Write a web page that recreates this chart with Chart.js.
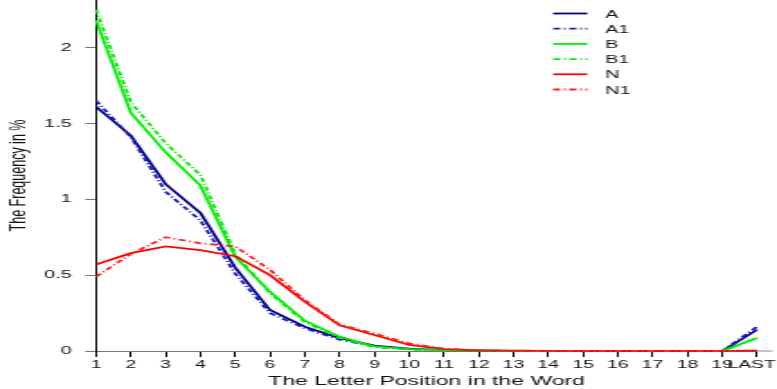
<!DOCTYPE html>
<html>
<head>
<meta charset="utf-8">
<script src="https://cdn.jsdelivr.net/npm/chart.js@4.4.1/dist/chart.umd.min.js"></script>
<style>
  html, body { margin: 0; padding: 0; background: #fff; }
  /* the reference is a horizontally stretched plot, so the canvas is drawn narrow and stretched */
  #freqChart { display: block; width: 777px !important; height: 389px !important; }
</style>
</head>
<body>
<canvas id="freqChart" width="432" height="389" style="width:777px;height:389px"></canvas>
<script>
// letter positions
const positions = ['1', '2', '3', '4', '5', '6', '7', '8', '9', '10',
                   '11', '12', '13', '14', '15', '16', '17', '18', '19', 'LAST'];
const yTicks = [0, 0.5, 1, 1.5, 2];

// frequency in % per position
const freqA  = [1.61, 1.42, 1.10, 0.91, 0.55, 0.27, 0.16, 0.085, 0.035, 0.015, 0.006, 0.003, 0.001, 0, 0, 0, 0, 0, 0, 0.14];
const freqA1 = [1.65, 1.41, 1.05, 0.86, 0.51, 0.25, 0.15, 0.075, 0.030, 0.012, 0.005, 0.002, 0.001, 0, 0, 0, 0, 0, 0, 0.16];
const freqB  = [2.18, 1.57, 1.31, 1.09, 0.62, 0.39, 0.20, 0.095, 0.030, 0.012, 0.005, 0.002, 0.001, 0, 0, 0, 0, 0, 0, 0.085];
const freqB1 = [2.25, 1.64, 1.37, 1.16, 0.64, 0.38, 0.19, 0.085, 0.025, 0.010, 0.004, 0.002, 0.001, 0, 0, 0, 0, 0, 0, 0.085];
const freqN  = [0.57, 0.645, 0.69, 0.665, 0.625, 0.50, 0.325, 0.17, 0.105, 0.040, 0.013, 0.004, 0.002, 0.001, 0, 0, 0, 0, 0, 0.003];
const freqN1 = [0.49, 0.64, 0.75, 0.71, 0.69, 0.535, 0.335, 0.175, 0.115, 0.050, 0.015, 0.005, 0.002, 0.001, 0, 0, 0, 0, 0, 0.003];

const dotDash = [4, 2, 1, 2];

function series(label, data, color, dash, order) {
    return {
        label: label,
        data: data,
        borderColor: color,
        backgroundColor: color,
        borderWidth: 1.8,
        borderDash: dash,
        pointRadius: 0,
        tension: 0,
        fill: false,
        clip: false,
        order: order
    };
}

// Legend drawn inside the plot, top right
const legendPlugin = {
    id: 'innerLegend',
    afterDraw(chart) {
        const ctx = chart.ctx;
        ctx.save();
        chart.data.datasets.forEach((ds, i) => {
            const y = 13.5 + i * 15.2;
            ctx.strokeStyle = ds.borderColor;
            ctx.lineWidth = 1.8;
            ctx.setLineDash(ds.borderDash || []);
            ctx.beginPath();
            ctx.moveTo(307.5, y);
            ctx.lineTo(326.5, y);
            ctx.stroke();
            ctx.setLineDash([]);
            ctx.fillStyle = '#111';
            ctx.font = '11px "Liberation Sans", Arial, sans-serif';
            ctx.textBaseline = 'middle';
            ctx.textAlign = 'left';
            ctx.fillText(ds.label, 336.5, y + 1);
        });
        ctx.restore();
    }
};

// zero line runs a little past the last position
const axisExtend = {
    id: 'axisExtend',
    beforeDatasetsDraw(chart) {
        const ctx = chart.ctx;
        const y = chart.scales.y.getPixelForValue(0);
        ctx.save();
        ctx.strokeStyle = '#8a8a8a';
        ctx.lineWidth = 1;
        ctx.beginPath();
        ctx.moveTo(chart.chartArea.right, y);
        ctx.lineTo(429.5, y);
        ctx.stroke();
        ctx.restore();
    }
};

const ctx = document.getElementById('freqChart').getContext('2d');
new Chart(ctx, {
    type: 'line',
    data: {
        labels: positions,
        datasets: [
            series('A',  freqA,  '#000088', [], 6),
            series('A1', freqA1, '#1a1acc', dotDash, 5),
            series('B',  freqB,  '#00ee00', [], 4),
            series('B1', freqB1, '#00ee00', dotDash, 3),
            series('N',  freqN,  '#ff0000', [], 2),
            series('N1', freqN1, '#ff2020', dotDash, 1)
        ]
    },
    options: {
        responsive: false,
        animation: false,
        devicePixelRatio: 1,
        layout: { padding: { left: 0, right: 11.1, top: 0, bottom: 0 } },
        plugins: {
            legend: { display: false },
            tooltip: { enabled: false }
        },
        scales: {
            x: {
                type: 'category',
                offset: false,
                grid: {
                    drawOnChartArea: false,
                    tickLength: 6,
                    tickColor: '#000',
                    tickWidth: 1
                },
                border: { color: '#777', width: 1 },
                ticks: {
                    autoSkip: false,
                    maxRotation: 0,
                    minRotation: 0,
                    padding: 2,
                    color: '#111',
                    font: { family: '"Liberation Sans", Arial, sans-serif', size: 10.8 },
                    // last label sits a bit left so it stays inside the page
                    callback: function (v, i) {
                        const lab = this.getLabelForValue(v);
                        return i === positions.length - 1 ? lab + '  ' : lab;
                    }
                },
                title: {
                    display: true,
                    text: 'The Letter Position in the Word',
                    color: '#111',
                    padding: { top: 0, bottom: 0 },
                    font: { family: '"Liberation Sans", Arial, sans-serif', size: 12.8 }
                },
                afterFit(scale) {
                    scale.height = 38;
                    scale.paddingLeft = 0;
                    scale.paddingRight = 0;
                }
            },
            y: {
                min: 0,
                max: 2.314,
                grid: {
                    drawOnChartArea: false,
                    tickLength: 6,
                    tickColor: '#777',
                    tickWidth: 1
                },
                border: { color: '#000', width: 1 },
                ticks: {
                    padding: 7.6,
                    color: '#111',
                    font: { family: '"Liberation Sans", Arial, sans-serif', size: 11 },
                    callback: (v) => String(v)
                },
                afterBuildTicks(scale) {
                    scale.ticks = yTicks.map(v => ({ value: v }));
                },
                title: {
                    display: true,
                    text: 'The Frequency in %',
                    color: '#111',
                    padding: { top: 3, bottom: 0 },
                    font: { family: '"Liberation Sans", Arial, sans-serif', size: 12.5 }
                },
                afterFit(scale) {
                    scale.width = 53.4;
                    scale.paddingTop = 0;
                    scale.paddingBottom = 0;
                }
            }
        }
    },
    plugins: [legendPlugin, axisExtend]
});
</script>
</body>
</html>
